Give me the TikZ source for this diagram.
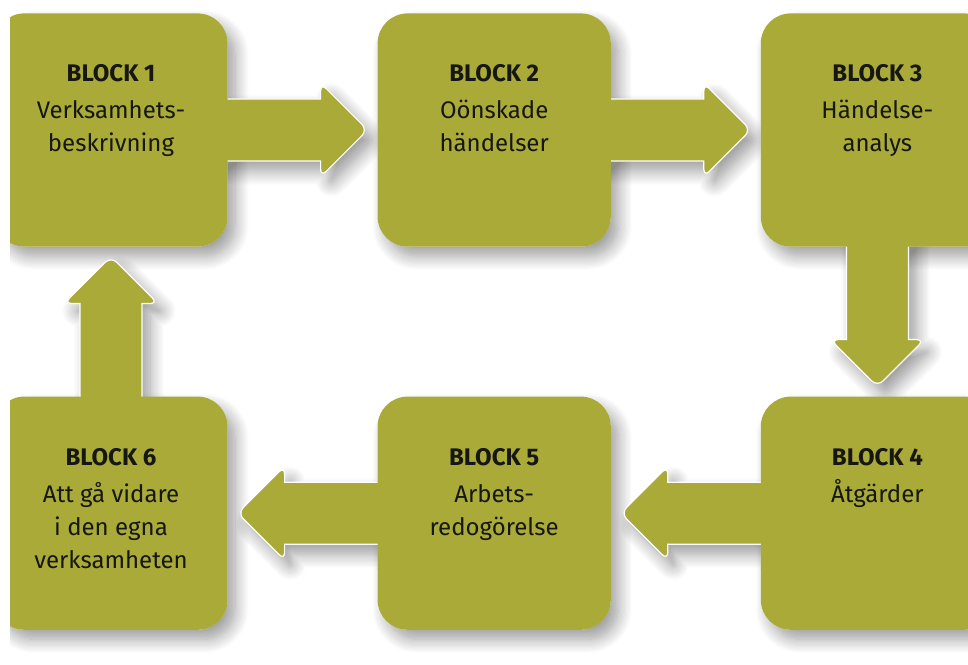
\documentclass[tikz,border=0pt]{standalone}
\usepackage{fontspec}
\setmainfont{Fira Sans}
\usepackage{tikz}
\usetikzlibrary{positioning,shadows.blur}
\definecolor{blockgreen}{RGB}{170,170,56}
\definecolor{blockink}{RGB}{22,22,18}
\tikzstyle{softshadow} = [blur shadow={shadow xshift=4pt, shadow yshift=-5pt, shadow blur radius=7pt, shadow blur steps=12, shadow opacity=40}]
\tikzstyle{block} = [rectangle, rounded corners=15pt, minimum width=116pt, minimum height=116pt, inner sep=0pt, fill=blockgreen, draw=white, line width=0.6pt, softshadow]
\tikzstyle{blocktext} = [align=center, inner sep=0pt, text=blockink, font=\fontsize{12}{16.5}\selectfont]
\tikzstyle{refill} = [fill=blockgreen, rounded corners=15pt]
\tikzset{flowarrow/.pic={
  \fill[blockgreen, draw=white, line width=0.6pt, softshadow]
    (-8,31) -- (93,31) [rounded corners=4pt] -- (93,47) -- (140,0) -- (93,-47) [sharp corners] -- (93,-31) -- (-8,-31) -- cycle;
}}

\begin{document}
\begin{tikzpicture}[x=0.5pt, y=0.5pt]
\useasboundingbox (0,0) rectangle (968,664);
\clip (10,0) rectangle (968,664);

% Blocks
\node (b1) [block] at (111,534) {};
\node (b2) [block, right=75pt of b1] {};
\node (b3) [block, right=75pt of b2] {};
\node (b6) [block, below=75pt of b1] {};
\node (b5) [block, right=75pt of b6] {};
\node (b4) [block, right=75pt of b5] {};

% Arrows
\pic at (b1.east) {flowarrow};
\pic at (b2.east) {flowarrow};
\pic[rotate=-90] at (b3.south) {flowarrow};
\pic[rotate=180] at (b4.west) {flowarrow};
\pic[rotate=180] at (b5.west) {flowarrow};
\pic[rotate=90] at (b6.north) {flowarrow};

% merge arrows into blocks
\foreach \b in {b1,b2,b3,b4,b5,b6}
  \fill[refill] (\b.south west) rectangle (\b.north east);

% Texts
\node (t1) [blocktext, below=25.5pt of b1.north] {\textbf{BLOCK 1}\\[2pt]Verksamhets-\\beskrivning};
\node (t2) [blocktext, below=25.5pt of b2.north] {\textbf{BLOCK 2}\\[2pt]Oönskade\\händelser};
\node (t3) [blocktext, below=25.5pt of b3.north] {\textbf{BLOCK 3}\\[2pt]Händelse-\\analys};
\node (t4) [blocktext, below=25.5pt of b4.north] {\textbf{BLOCK 4}\\[2pt]Åtgärder};
\node (t5) [blocktext, below=25.5pt of b5.north] {\textbf{BLOCK 5}\\[2pt]Arbets-\\redogörelse};
\node (t6) [blocktext, below=25.5pt of b6.north] {\textbf{BLOCK 6}\\[2pt]Att gå vidare\\i den egna\\verksamheten};
\end{tikzpicture}
\end{document}
